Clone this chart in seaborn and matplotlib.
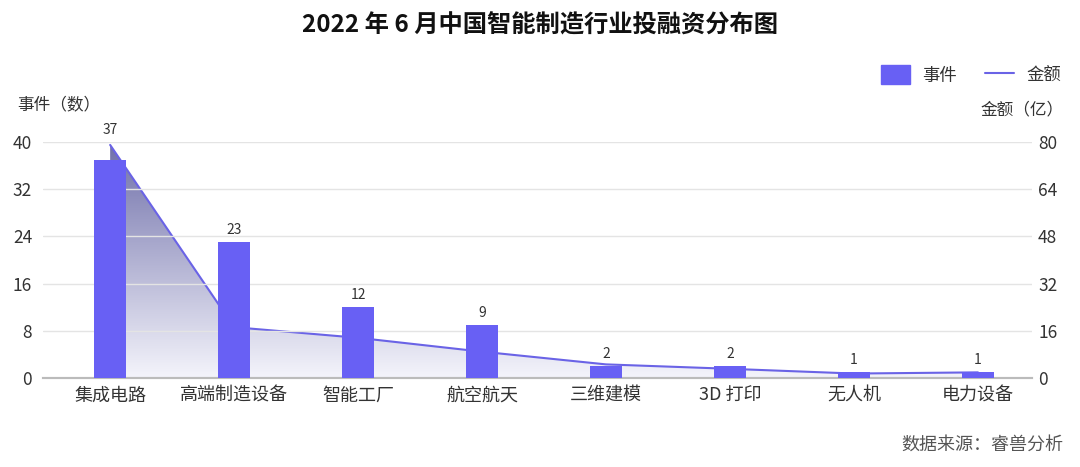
import numpy as np
import pandas as pd
import seaborn as sns
import matplotlib.pyplot as plt
from matplotlib.patches import Patch
from matplotlib.lines import Line2D
from matplotlib.colors import LinearSegmentedColormap

# Data ------------------------------------------
categories = ['集成电路', '高端制造设备', '智能工厂', '航空航天', '三维建模', '3D 打印', '无人机', '电力设备']
events = [37, 23, 12, 9, 2, 2, 1, 1]                          # 事件 (数)
amounts = [79, 17.3, 13.7, 9.0, 4.7, 3.2, 1.6, 2.0]           # 金额 (亿)
left_ticks = [0, 8, 16, 24, 32, 40]
right_ticks = [0, 16, 32, 48, 64, 80]
# -----------------------------------------------

df = pd.DataFrame({'领域': categories, '事件': events, '金额': amounts})
pos = np.arange(len(categories))

sns.set_theme(style='white')
plt.rcParams['font.family'] = ['Noto Sans CJK SC', 'DejaVu Sans']

bar_col = '#6860F4'
line_col = '#6A63E6'
txt = '#333333'

fig = plt.figure(figsize=(10.8, 4.67), dpi=100)
ax = fig.add_axes([0.040, 0.19, 0.916, 0.506])
ax2 = ax.twinx()

# line + gradient area on the right axis
sns.lineplot(x=pos, y=amounts, ax=ax2, color=line_col, linewidth=1.5, zorder=3)
poly = ax2.fill_between(pos, amounts, 0, color='none', linewidth=0)
cmap = LinearSegmentedColormap.from_list('fade', ['#F4F4FB', '#7070AA'])
grad = np.linspace(0, 1, 256).reshape(-1, 1)
im = ax2.imshow(grad, extent=[pos[0], pos[-1], 0, max(amounts)], origin='lower',
                aspect='auto', cmap=cmap, zorder=1)
im.set_clip_path(poly.get_paths()[0], transform=ax2.transData)

# bars on the left axis, drawn above the area
sns.barplot(data=df, x='领域', y='事件', color=bar_col, width=0.26, saturation=1, ax=ax,
            zorder=3, linewidth=0, edgecolor=bar_col)
labels = ax.bar_label(ax.containers[0], padding=4, fontsize=10, color=txt)
labels[0].xyann = (0, 16)   # lift the first label above the line peak
ax.set_zorder(ax2.get_zorder() + 1)
ax.patch.set_visible(False)

ax.set_xlim(-0.54, 7.44)
ax2.set_xlim(-0.54, 7.44)
ax.set_ylim(0, 40)
ax2.set_ylim(0, 80)
ax.set_yticks(left_ticks)
ax2.set_yticks(right_ticks)
ax.grid(axis='y', color='#E4E4E4', linewidth=1)
ax2.grid(False)
ax.set_xlabel('')
ax.set_ylabel('')
ax2.set_ylabel('')

for a in (ax, ax2):
    for s in ['top', 'left', 'right']:
        a.spines[s].set_visible(False)
    a.spines['bottom'].set_color('#BBBBBB')
    a.spines['bottom'].set_linewidth(1.5)
    a.tick_params(length=0, labelsize=12.5, colors=txt)
ax.tick_params(axis='x', labelsize=13, pad=6)
ax.tick_params(axis='y', pad=8)
ax2.tick_params(axis='y', pad=4)

# titles / labels
fig.text(0.5, 0.945, '2022 年 6 月中国智能制造行业投融资分布图', ha='center', va='center',
         fontsize=17.5, fontweight='bold', color='#111111')
fig.text(0.016, 1 - 105 / 467, '事件（数）', ha='left', va='center', fontsize=12, color=txt)
fig.text(0.985, 1 - 110 / 467, '金额（亿）', ha='right', va='center', fontsize=12, color=txt)
fig.text(0.985, 1 - 445 / 467, '数据来源：睿兽分析', ha='right', va='center', fontsize=13, color='#555555')

handles = [Patch(color=bar_col, label='事件'), Line2D([], [], color=line_col, linewidth=1.5, label='金额')]
fig.legend(handles=handles, loc='center right', bbox_to_anchor=(0.997, 1 - 75 / 467), ncol=2,
           frameon=False, fontsize=12.5, handlelength=1.7, handleheight=1.3, columnspacing=1.6,
           handletextpad=0.7, labelcolor=txt)

plt.savefig('out.png', dpi=100)
